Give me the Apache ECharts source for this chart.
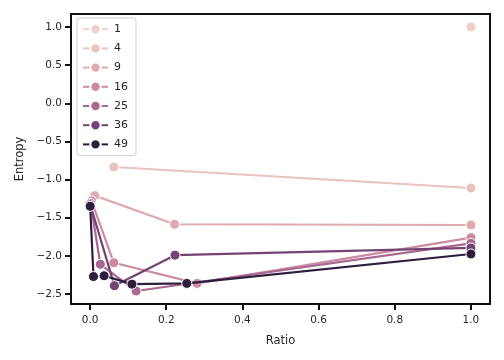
<!DOCTYPE html>
<html>
<head>
<meta charset="utf-8">
<script src="https://cdn.jsdelivr.net/npm/echarts@6/dist/echarts.min.js"></script>
<style>html,body{margin:0;padding:0;background:#fff}#c{width:504px;height:360px}</style>
</head>
<body>
<div id="c"></div>
<script>
// ---- data ----
const levels = [1, 4, 9, 16, 25, 36, 49];
const ratio_1 = [1.0];
const entropy_1 = [1.0];
const ratio_4 = [0.0625, 1.0];
const entropy_4 = [-0.835, -1.11];
const ratio_9 = [0.0123, 0.222, 1.0];
const entropy_9 = [-1.21, -1.585, -1.595];
const ratio_16 = [0.0039, 0.0625, 0.281, 1.0];
const entropy_16 = [-1.28, -2.09, -2.36, -1.76];
const ratio_25 = [0.0016, 0.027, 0.121, 1.0];
const entropy_25 = [-1.31, -2.11, -2.46, -1.835];
const ratio_36 = [0.0008, 0.064, 0.223, 1.0];
const entropy_36 = [-1.33, -2.39, -1.99, -1.895];
const ratio_49 = [0.0004, 0.009, 0.037, 0.110, 0.254, 1.0];
const entropy_49 = [-1.35, -2.27, -2.26, -2.37, -2.36, -1.975];
const xTicks = [0.0, 0.2, 0.4, 0.6, 0.8, 1.0];
const yTicks = [-2.5, -2.0, -1.5, -1.0, -0.5, 0.0, 0.5, 1.0];

const ratios = [ratio_1, ratio_4, ratio_9, ratio_16, ratio_25, ratio_36, ratio_49];
const entropies = [entropy_1, entropy_4, entropy_9, entropy_16, entropy_25, entropy_36, entropy_49];

// seaborn default cubehelix ("ch:") colormap
function cubehelix(v) {
  const t = (v - levels[0]) / (levels[levels.length - 1] - levels[0]);
  const x = 0.85 + (0.15 - 0.85) * t;
  const start = 0, rot = 0.4, hue = 0.8;
  const a = hue * x * (1 - x) / 2;
  const phi = 2 * Math.PI * (start / 3 + rot * x);
  const c = Math.cos(phi), s = Math.sin(phi);
  const r = x + a * (-0.14861 * c + 1.78277 * s);
  const g = x + a * (-0.29227 * c - 0.90649 * s);
  const b = x + a * (1.97294 * c);
  const h = k => Math.round(Math.max(0, Math.min(1, k)) * 255).toString(16).padStart(2, '0');
  return '#' + h(r) + h(g) + h(b);
}

const textColor = '#262626';
const fmt = v => (Math.round(v * 10) / 10).toFixed(1).replace('-', '\u2212');

const series = levels.map((lv, i) => {
  const col = cubehelix(lv);
  return {
    name: String(lv),
    type: 'line',
    data: ratios[i].map((r, j) => [r, entropies[i][j]]),
    symbol: 'circle',
    symbolSize: 10,
    showAllSymbol: true,
    lineStyle: { color: col, width: 2.2 },
    itemStyle: { color: col, borderColor: '#ffffff', borderWidth: 1 },
    emphasis: { disabled: true },
    animation: false,
    z: 2 + i
  };
});

const chart = echarts.init(document.getElementById('c'), null, { renderer: 'canvas' });
chart.setOption({
  animation: false,
  backgroundColor: '#ffffff',
  textStyle: { fontFamily: 'DejaVu Sans' },
  grid: {
    left: 71, right: 14, top: 14, bottom: 56,
    show: true, borderColor: '#111', borderWidth: 2, backgroundColor: 'transparent'
  },
  legend: {
    orient: 'vertical',
    left: 77, top: 18,
    padding: [5, 8, 5, 5],
    itemWidth: 25, itemHeight: 13, itemGap: 6.8,
    backgroundColor: 'rgba(255,255,255,0.85)',
    borderColor: '#d0d0d0', borderWidth: 1, borderRadius: 3,
    textStyle: { fontSize: 11, color: textColor, fontFamily: 'DejaVu Sans', padding: [0, 0, 0, 1] },
    data: levels.map(String)
  },
  xAxis: {
    type: 'value', min: -0.05, max: 1.05,
    name: 'Ratio', nameLocation: 'middle', nameGap: 31,
    nameTextStyle: { fontSize: 11.5, color: textColor, fontFamily: 'DejaVu Sans' },
    axisLine: { show: true, onZero: false, lineStyle: { color: '#111', width: 2 } },
    axisTick: { show: true, length: 6, lineStyle: { color: '#111', width: 2 }, customValues: xTicks },
    axisLabel: { fontSize: 10.5, color: textColor, margin: 11, customValues: xTicks, formatter: fmt },
    splitLine: { show: false }
  },
  yAxis: {
    type: 'value', min: -2.63, max: 1.17,
    name: 'Entropy', nameLocation: 'middle', nameGap: 45, nameRotate: 90,
    nameTextStyle: { fontSize: 11.5, color: textColor, fontFamily: 'DejaVu Sans' },
    axisLine: { show: true, onZero: false, lineStyle: { color: '#111', width: 2 } },
    axisTick: { show: true, length: 6, lineStyle: { color: '#111', width: 2 }, customValues: yTicks },
    axisLabel: { fontSize: 10.5, color: textColor, margin: 9, customValues: yTicks, formatter: fmt },
    splitLine: { show: false }
  },
  series: series
});
</script>
</body>
</html>
